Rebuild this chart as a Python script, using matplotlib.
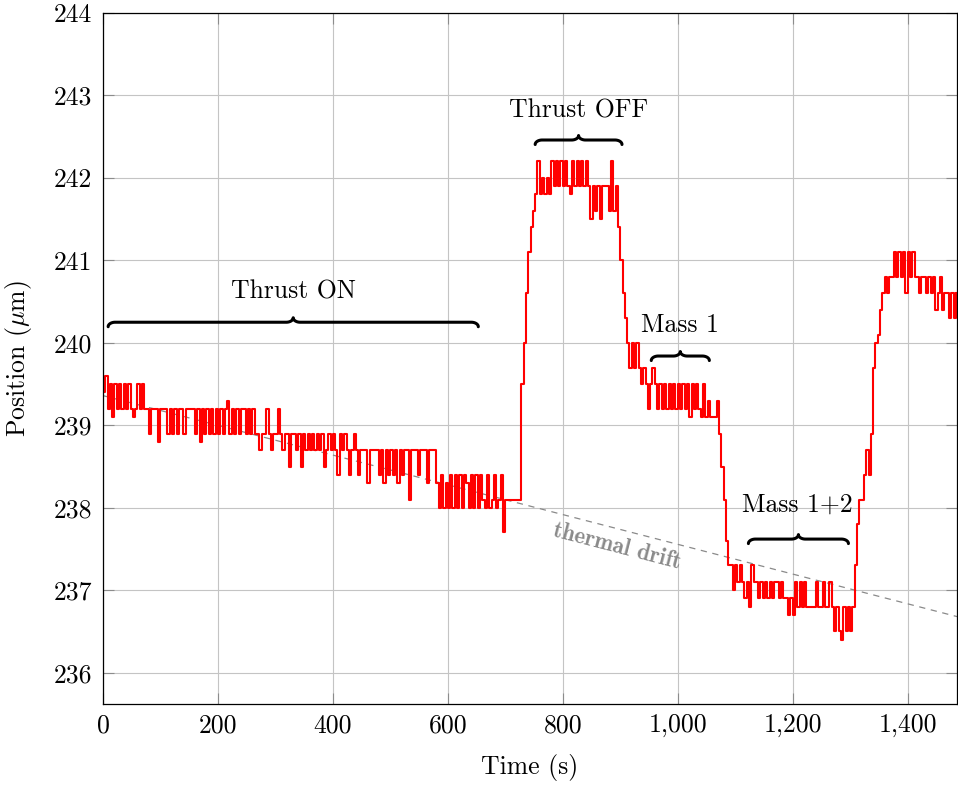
import numpy as np
import matplotlib
matplotlib.use("Agg")
import matplotlib.pyplot as plt
from matplotlib.ticker import FuncFormatter, MultipleLocator

plt.rcParams["font.family"] = "serif"
plt.rcParams["font.serif"] = ["cmr10"]
plt.rcParams["mathtext.fontset"] = "cm"
plt.rcParams["axes.formatter.use_mathtext"] = True
plt.rcParams["axes.unicode_minus"] = False

# --- data: position read-out in 0.1 um counts, one sample every 4 s ---
sample_period = 4.0
pos_counts = [
    # 0 - 96 s
    2394, 2396, 2392, 2395, 2391, 2395, 2392, 2395, 2392, 2395, 2392, 2395, 2392,
    2391, 2392, 2395, 2392, 2395, 2392, 2392, 2389, 2392, 2392, 2392, 2388,
    # 100 - 196 s
    2392, 2392, 2392, 2389, 2392, 2389, 2392, 2389, 2392, 2392, 2389, 2392, 2392,
    2392, 2392, 2389, 2392, 2388, 2392, 2389, 2392, 2389, 2392, 2389, 2392,
    # 200 - 296 s
    2389, 2392, 2389, 2392, 2393, 2389, 2392, 2389, 2392, 2389, 2392, 2392, 2389,
    2392, 2389, 2392, 2389, 2389, 2387, 2389, 2389, 2392, 2389, 2387, 2389,
    # 300 - 396 s
    2389, 2392, 2389, 2387, 2389, 2389, 2385, 2389, 2389, 2387, 2389, 2385, 2389,
    2387, 2389, 2387, 2389, 2387, 2389, 2387, 2389, 2385, 2387, 2389, 2387,
    # 400 - 496 s
    2389, 2387, 2384, 2389, 2387, 2389, 2387, 2384, 2387, 2389, 2387, 2384, 2387,
    2387, 2387, 2383, 2387, 2387, 2387, 2387, 2384, 2387, 2383, 2387, 2384,
    # 500 - 596 s
    2387, 2384, 2387, 2383, 2387, 2384, 2387, 2387, 2381, 2387, 2387, 2387, 2384,
    2387, 2387, 2387, 2383, 2387, 2387, 2387, 2383, 2380, 2384, 2380, 2383,
    # 600 - 696 s
    2380, 2384, 2380, 2384, 2380, 2384, 2380, 2384, 2383, 2380, 2384, 2380, 2384,
    2380, 2384, 2381, 2380, 2384, 2380, 2381, 2384, 2380, 2381, 2384, 2377,
    # 700 - 796 s
    2381, 2381, 2381, 2381, 2381, 2381, 2381, 2395, 2400, 2406, 2411, 2414, 2416,
    2418, 2422, 2418, 2420, 2418, 2420, 2418, 2422, 2419, 2422, 2419, 2422,
    # 800 - 896 s
    2419, 2422, 2419, 2418, 2422, 2419, 2422, 2419, 2422, 2419, 2422, 2419, 2415,
    2419, 2416, 2419, 2415, 2419, 2419, 2419, 2416, 2422, 2416, 2419, 2414,
    # 900 - 996 s
    2410, 2406, 2403, 2400, 2397, 2400, 2397, 2400, 2397, 2395, 2397, 2395, 2392,
    2395, 2397, 2395, 2392, 2395, 2392, 2395, 2392, 2395, 2392, 2395, 2392,
    # 1000 - 1096 s
    2395, 2392, 2395, 2392, 2395, 2391, 2395, 2392, 2395, 2392, 2391, 2395, 2391,
    2393, 2391, 2391, 2391, 2393, 2389, 2385, 2381, 2376, 2373, 2373, 2370,
    # 1100 - 1196 s
    2373, 2371, 2373, 2371, 2369, 2371, 2368, 2373, 2371, 2371, 2369, 2371, 2369,
    2371, 2369, 2371, 2369, 2371, 2371, 2369, 2371, 2369, 2369, 2367, 2369,
    # 1200 - 1296 s
    2367, 2371, 2368, 2371, 2368, 2371, 2368, 2368, 2368, 2368, 2371, 2368, 2368,
    2371, 2368, 2368, 2371, 2368, 2365, 2368, 2365, 2364, 2368, 2365, 2368,
    # 1300 - 1396 s
    2365, 2368, 2373, 2378, 2381, 2381, 2384, 2387, 2384, 2389, 2397, 2400, 2401,
    2404, 2406, 2408, 2406, 2408, 2408, 2411, 2408, 2411, 2408, 2411, 2406,
    # 1400 - 1484 s
    2411, 2408, 2411, 2408, 2408, 2406, 2408, 2408, 2406, 2408, 2406, 2408, 2404,
    2406, 2408, 2404, 2406, 2406, 2403, 2406, 2403, 2406,
]

# thermal drift guide line (end points)
drift_t = [0, 1486]
drift_pos = [239.36, 236.68]

# phase annotations: label, brace start, brace end, brace level, label x, label y
phase_labels = ["Thrust ON", "Thrust OFF", "Mass 1", "Mass 1+2"]
brace_start = [9, 752, 954, 1123]
brace_end = [653, 903, 1055, 1297]
brace_level = [240.25, 242.46, 239.84, 237.62]
label_t = [331, 827, 1003, 1208]
label_pos = [240.62, 242.82, 240.22, 238.04]

time_s = np.arange(len(pos_counts)) * sample_period
pos_um = np.array(pos_counts) / 10.0

fig = plt.figure(figsize=(9.58, 7.85), dpi=100)
ax = fig.add_axes([0.1075, 0.1032, 0.8915, 0.8802])

ax.set_xlim(0, 1486)
ax.set_ylim(235.62, 244)
ax.xaxis.set_major_locator(MultipleLocator(200))
ax.yaxis.set_major_locator(MultipleLocator(1))
ax.xaxis.set_major_formatter(FuncFormatter(lambda v, p: f"{v:,.0f}"))
ax.yaxis.set_major_formatter(FuncFormatter(lambda v, p: f"{v:.0f}"))

ax.grid(True, color="#c4c4c4", linewidth=0.8)
ax.set_axisbelow(True)
ax.tick_params(direction="in", length=8, width=0.8, color="#8c8c8c",
               labelsize=18.5, top=True, right=True)
ax.tick_params(axis="x", pad=7)
ax.tick_params(axis="y", pad=8)
for sp in ax.spines.values():
    sp.set_linewidth(0.9)

ax.plot(drift_t, drift_pos, color="#8a8a8a", linewidth=0.9, dashes=(5, 4.5))
ax.plot(time_s, pos_um, color="red", linewidth=1.5, drawstyle="steps-post")

ax.text(895, 237.53, "thermal drift", fontfamily="cmb10", fontsize=16.5,
        color="#8a8a8a", rotation=-14.5, ha="center", va="center")

ax.set_xlabel("Time (s)", fontsize=18.5, labelpad=12)
ax.set_ylabel(r"Position ($\mu$m)", fontsize=18.5, labelpad=14)


def draw_brace(ax, x0, x1, level, h=4.5, r=7.0):
    # curly brace built in pixel space, then mapped back to data coords
    fig.canvas.draw()
    to_px = ax.transData
    (px0, py), (px1, _) = to_px.transform([(x0, level), (x1, level)])
    pm = 0.5 * (px0 + px1)
    th = np.linspace(0, np.pi / 2, 20)
    xs = np.concatenate([
        px0 + r - r * np.cos(th),
        pm - r + r * np.sin(th),
        pm + r - r * np.sin(th[::-1]),
        px1 - r + r * np.cos(th[::-1]),
    ])
    ys = np.concatenate([
        py - h + h * np.sin(th),
        py + h - h * np.cos(th),
        py + h - h * np.cos(th[::-1]),
        py - h + h * np.sin(th[::-1]),
    ])
    pts = to_px.inverted().transform(np.column_stack([xs, ys]))
    ax.plot(pts[:, 0], pts[:, 1], color="black", linewidth=2.2,
            solid_capstyle="round", clip_on=False)


for i, lab in enumerate(phase_labels):
    draw_brace(ax, brace_start[i], brace_end[i], brace_level[i])
    ax.text(label_t[i], label_pos[i], lab, fontsize=18.5, ha="center", va="center")

fig.savefig("out.png", dpi=100)
